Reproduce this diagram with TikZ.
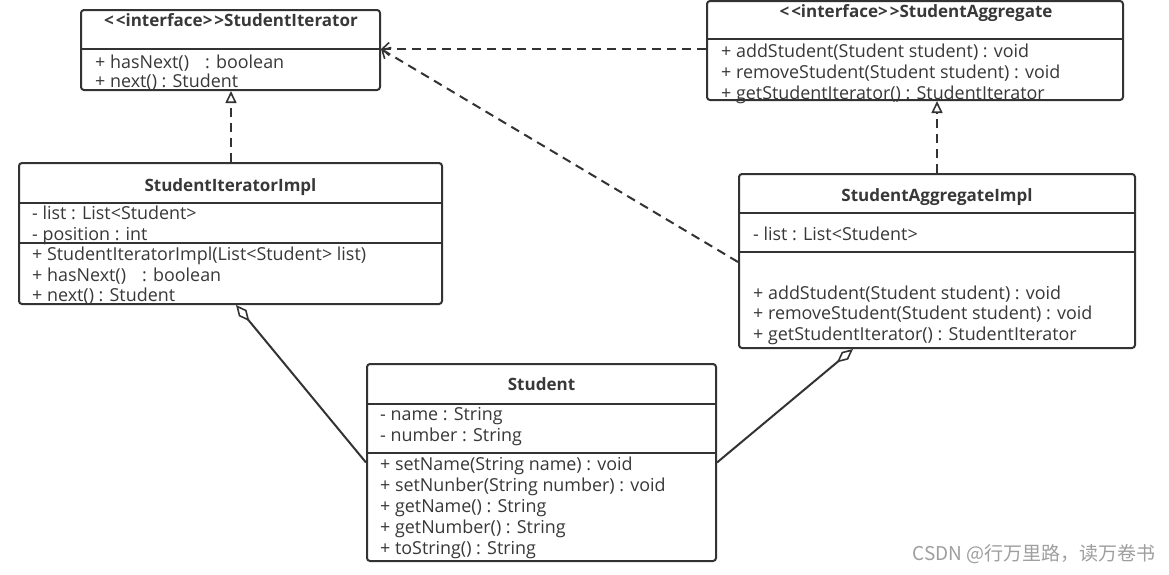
\documentclass[tikz,border=0pt]{standalone}
\usepackage{fontspec}
\setmainfont{Open Sans}
\newfontfamily\cjkfont{Noto Sans CJK SC}
\usetikzlibrary{arrows.meta,calc}
\definecolor{ln}{HTML}{333333}
\definecolor{tx}{HTML}{383838}
\definecolor{wm}{HTML}{9E9E9E}
\tikzset{
  umlbox/.style={draw=ln, line width=2pt, rounded corners=3pt, fill=white, inner sep=0pt},
  divider/.style={draw=ln, line width=2pt},
  ctitle/.style={font=\fontsize{17}{20}\selectfont\bfseries, text=tx, inner sep=0pt, anchor=center, text height=12.5pt, text depth=3.5pt},
  member/.style={font=\fontsize{17.9}{20}\selectfont, text=tx, inner sep=0pt, anchor=west, text height=12.5pt, text depth=3.5pt},
  dep/.style={draw=ln, line width=2pt, dash pattern=on 9pt off 6pt, -{Straight Barb[length=7pt,width=13pt,line width=1.6pt]}},
  real/.style={draw=ln, line width=2pt, dash pattern=on 9pt off 6pt, -{Triangle[open,length=12pt,width=11pt,line width=1.6pt]}},
  agg/.style={draw=ln, line width=2pt, -{Diamond[open,length=21pt,width=10pt,line width=1.6pt]}},
}
\newcommand{\ifc}{<\kern2pt<interface>\kern2pt>}
\begin{document}
\begin{tikzpicture}[x=1pt,y=-1pt]
\useasboundingbox[fill=white] (0,0) rectangle (1169,574);

% ---- StudentIterator
\node[umlbox, minimum width=299pt, minimum height=80pt] (si) at (230.5,50) {};
\draw[divider] (si.west |- 0,49) -- (si.east |- 0,49);
\node[ctitle] (sit) at (231,22) {\ifc StudentIterator};
\node[member] (si1) at (95,63.5) {+ hasNext()\hspace{0.9em}: boolean};
\node[member] (si2) at (95,82.5) {+ next() : Student};

% ---- StudentAggregate
\node[umlbox, minimum width=416pt, minimum height=99pt] (sa) at (915,50.5) {};
\draw[divider] (sa.west |- 0,39) -- (sa.east |- 0,39);
\node[ctitle] (sat) at (916,12.5) {\ifc StudentAggregate};
\node[member] (sa1) at (721,52.5) {+ addStudent(Student student) : void};
\node[member] (sa2) at (721,73.5) {+ removeStudent(Student student) : void};
\node[member] (sa3) at (721,94.5) {+ getStudentIterator() : StudentIterator};

% ---- StudentIteratorImpl
\node[umlbox, minimum width=423pt, minimum height=141pt] (sii) at (230.5,233.5) {};
\draw[divider] (sii.west |- 0,203) -- (sii.east |- 0,203);
\draw[divider] (sii.west |- 0,243) -- (sii.east |- 0,243);
\node[ctitle] (siit) at (230.5,186.5) {StudentIteratorImpl};
\node[member] (sii1) at (32,214.5) {- list : List<Student>};
\node[member] (sii2) at (32,235.5) {- position : int};
\node[member] (sii3) at (32,255.5) {+ StudentIteratorImpl(List<Student> list)};
\node[member] (sii4) at (32,276.5) {+ hasNext()\hspace{0.9em}: boolean};
\node[member] (sii5) at (32,296.5) {+ next() : Student};

% ---- StudentAggregateImpl
\node[umlbox, minimum width=396pt, minimum height=174pt] (sai) at (937,261) {};
\draw[divider] (sai.west |- 0,213) -- (sai.east |- 0,213);
\draw[divider] (sai.west |- 0,252) -- (sai.east |- 0,252);
\node[ctitle] (sait) at (937,196.5) {StudentAggregateImpl};
\node[member] (sai1) at (753,236) {- list : List<Student>};
\node[member] (sai2) at (753,294.5) {+ addStudent(Student student) : void};
\node[member] (sai3) at (753,314.5) {+ removeStudent(Student student) : void};
\node[member] (sai4) at (753,335.5) {+ getStudentIterator() : StudentIterator};

% ---- Student
\node[umlbox, minimum width=349pt, minimum height=197pt] (st) at (541.5,462.5) {};
\draw[divider] (st.west |- 0,404) -- (st.east |- 0,404);
\draw[divider] (st.west |- 0,453) -- (st.east |- 0,453);
\node[ctitle] (stt) at (541.5,385.5) {Student};
\node[member] (st1) at (380,415.5) {- name : String};
\node[member] (st2) at (380,436.5) {- number : String};
\node[member] (st3) at (380,465.5) {+ setName(String name) : void};
\node[member] (st4) at (380,486.5) {+ setNunber(String number) : void};
\node[member] (st5) at (380,507.5) {+ getName() : String};
\node[member] (st6) at (380,528.5) {+ getNumber() : String};
\node[member] (st7) at (380,549.5) {+ toString() : String};

% ---- connectors
\coordinate (siR) at (si.east |- 0,49);
\draw[dep] (sa.west |- 0,49) -- (siR);
\draw[dep] (sai.west |- 0,262) -- (siR);
\draw[real] (sii.north -| 231,0) -- (si.south -| 231,0);
\draw[real] (sai.north -| 937,0) -- (sa.south -| 937,0);
\draw[agg] (st.west) -- (sii.south -| 236,0);
\draw[agg] (st.east) -- (sai.south -| 853,0);

% ---- watermark
\node[font=\cjkfont\fontsize{19}{22}\selectfont, text=wm, inner sep=0pt, anchor=east] (wmk) at (1156,554) {CSDN @行万里路，读万卷书};
\end{tikzpicture}
\end{document}
